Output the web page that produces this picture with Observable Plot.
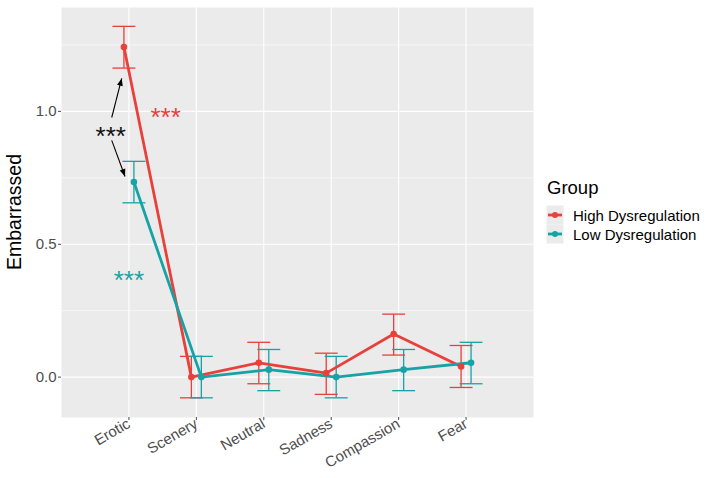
<!DOCTYPE html>
<html>
<head>
<meta charset="utf-8">
<script src="https://cdn.jsdelivr.net/npm/d3@7"></script>
<script src="https://cdn.jsdelivr.net/npm/@observablehq/plot@0.6"></script>
<style>
  html, body { margin: 0; padding: 0; background: #ffffff; }
  #chart { width: 709px; height: 478px; }
</style>
</head>
<body>
<div id="chart"></div>
<script>
// ---- data ----
const categories = ["Erotic", "Scenery", "Neutral", "Sadness", "Compassion", "Fear"];
const groups = ["High Dysregulation", "Low Dysregulation"];
const highMean  = [1.242, 0.000, 0.054, 0.015, 0.162, 0.040];
const highLower = [1.163, -0.078, -0.025, -0.065, 0.083, -0.039];
const highUpper = [1.320, 0.078, 0.131, 0.090, 0.237, 0.119];
const lowMean   = [0.734, 0.000, 0.028, 0.000, 0.028, 0.054];
const lowLower  = [0.656, -0.078, -0.051, -0.078, -0.051, -0.025];
const lowUpper  = [0.812, 0.078, 0.104, 0.078, 0.104, 0.131];
const yTicks = [0, 0.5, 1.0];
const yMinor = [0.25, 0.75, 1.25];

// annotations
const starLabels = ["***", "***", "***"];
const starColors = ["#E8403B", "#111111", "#17A3A5"];
const starX = [0.545, -0.27, 0.0];
const starY = [1.0, 0.929, 0.387];
const arrowX1 = [-0.255, -0.255];
const arrowY1 = [0.977, 0.891];
const arrowX2 = [-0.107, -0.058];
const arrowY2 = [1.124, 0.755];

const colors = ["#E8403B", "#17A3A5"];
const dodge = 0.074;
const capHalf = 0.17;

const rows = [];
categories.forEach((c, i) => {
  rows.push({group: groups[0], i, x: i - dodge, mean: highMean[i], lo: highLower[i], hi: highUpper[i]});
});
categories.forEach((c, i) => {
  rows.push({group: groups[1], i, x: i + dodge, mean: lowMean[i], lo: lowLower[i], hi: lowUpper[i]});
});
const stars = starLabels.map((t, k) => ({t, c: starColors[k], x: starX[k], y: starY[k]}));
const arrows = arrowX1.map((_, k) => ({x1: arrowX1[k], y1: arrowY1[k], x2: arrowX2[k], y2: arrowY2[k]}));

const font = "'Liberation Sans', Arial, Helvetica, sans-serif";

const plot = Plot.plot({
  width: 709,
  height: 478,
  marginLeft: 61,
  marginRight: 176,
  marginTop: 7,
  marginBottom: 61,
  style: {fontFamily: font, background: "white"},
  x: {domain: [-1, 6], axis: null},
  y: {domain: [-0.152, 1.391], axis: null},
  color: {domain: groups, range: colors},
  marks: [
    Plot.frame({fill: "#EBEBEB", stroke: null}),
    Plot.ruleY(yMinor, {stroke: "white", strokeWidth: 0.55}),
    Plot.ruleY(yTicks, {stroke: "white", strokeWidth: 1.1}),
    Plot.ruleX(d3.range(categories.length), {stroke: "white", strokeWidth: 1.1}),
    Plot.axisY({ticks: yTicks, tickFormat: d3.format(".1f"), tickSize: 3, tickPadding: 2,
                fontSize: 15, color: "#4D4D4D", label: null}),
    Plot.axisX({ticks: d3.range(categories.length), tickFormat: i => categories[i],
                tickRotate: -30, tickSize: 3, tickPadding: 2, fontSize: 15,
                color: "#4D4D4D", label: null}),
    // error bars
    Plot.link(rows, {x1: "x", x2: "x", y1: "lo", y2: "hi", stroke: "group", strokeWidth: 1.3}),
    Plot.link(rows, {x1: d => d.x - capHalf, x2: d => d.x + capHalf, y1: "lo", y2: "lo", stroke: "group", strokeWidth: 1.3}),
    Plot.link(rows, {x1: d => d.x - capHalf, x2: d => d.x + capHalf, y1: "hi", y2: "hi", stroke: "group", strokeWidth: 1.3}),
    // lines and points
    Plot.line(rows, {x: "x", y: "mean", z: "group", stroke: "group", strokeWidth: 2.8}),
    Plot.dot(rows, {x: "x", y: "mean", fill: "group", r: 3.3}),
    // annotations
    Plot.text(stars, {x: "x", y: "y", text: "t", fill: "c", fontSize: 26, dy: 6.5}),
    Plot.link(arrows, {x1: "x1", y1: "y1", x2: "x2", y2: "y2", stroke: "black", strokeWidth: 1.1, markerEnd: "arrow"})
  ]
});

const svg = d3.select(plot);
// filled arrowheads
svg.selectAll("marker").attr("overflow", "visible");
svg.selectAll("marker path").attr("d", "M-10,-4L0,0L-10,4Z").attr("fill", "black").attr("stroke", "none");

// y axis title
svg.append("text")
  .attr("transform", "translate(14,212) rotate(-90)")
  .attr("text-anchor", "middle")
  .attr("dominant-baseline", "central")
  .attr("font-family", font)
  .attr("font-size", 19.5)
  .attr("fill", "black")
  .text("Embarrassed");

// legend
const lg = svg.append("g").attr("font-family", font).attr("text-anchor", "start");
lg.append("text").attr("x", 547).attr("y", 194).attr("font-size", 18.5).attr("fill", "black").text("Group");
const keyY = [215, 234];
groups.forEach((g, k) => {
  lg.append("rect").attr("x", 546.5).attr("y", keyY[k] - 9.5).attr("width", 17).attr("height", 19).attr("fill", "#EBEBEB");
  lg.append("line").attr("x1", 548).attr("x2", 562).attr("y1", keyY[k]).attr("y2", keyY[k])
    .attr("stroke", colors[k]).attr("stroke-width", 2.8);
  lg.append("circle").attr("cx", 555).attr("cy", keyY[k]).attr("r", 3).attr("fill", colors[k]);
  lg.append("text").attr("x", 573).attr("y", keyY[k]).attr("dominant-baseline", "central")
    .attr("font-size", 15).attr("fill", "black").text(g);
});

document.getElementById("chart").appendChild(plot);
</script>
</body>
</html>
